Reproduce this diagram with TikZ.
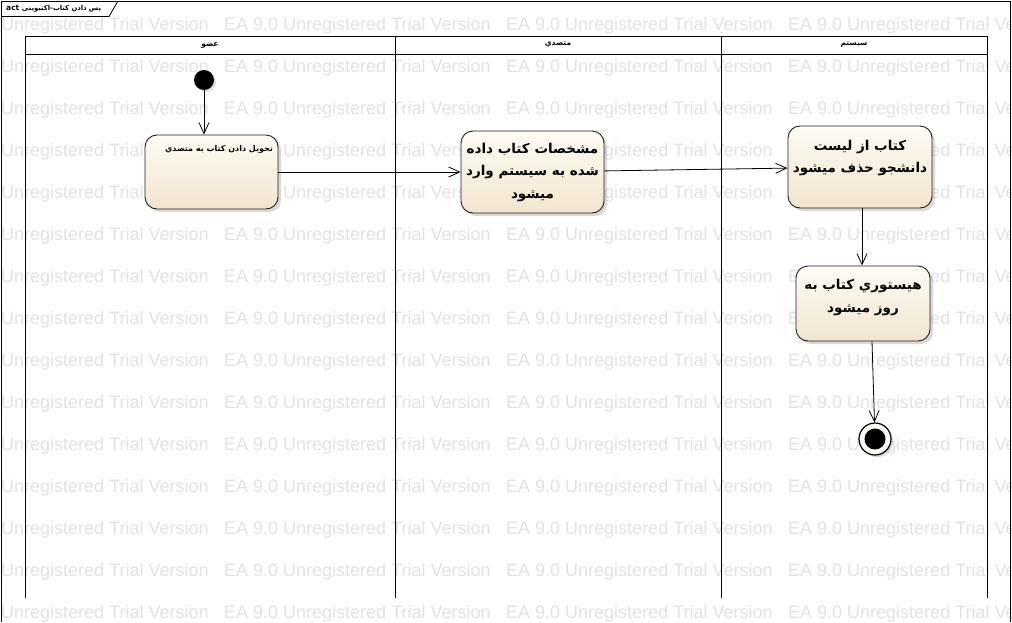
\documentclass[tikz,border=0pt]{standalone}
\usepackage{fontspec}
\setmainfont{DejaVu Sans}
\newfontfamily\arabicfont[Script=Arabic]{DejaVu Sans}
\newfontfamily\wmfont{Liberation Sans}
\usetikzlibrary{arrows.meta,shadows}
\TeXXeTstate=1
\definecolor{nodetop}{RGB}{254,251,244}
\definecolor{nodebot}{RGB}{241,229,206}
\definecolor{wmgray}{RGB}{226,226,226}
\definecolor{edge}{RGB}{30,30,30}
\tikzset{
  wm/.style={font=\wmfont\fontsize{18}{18}\selectfont, text=wmgray, inner sep=0pt, anchor=west},
  lane/.style={draw=black, line width=0.9pt},
  hdr/.style={font=\arabicfont\bfseries\fontsize{7.5}{8}\selectfont, inner sep=0pt},
  actbox/.style={draw=edge, line width=0.9pt, rounded corners=12pt,
    top color=nodetop, bottom color=nodebot,
    drop shadow={shadow xshift=3pt, shadow yshift=-3pt, opacity=0.3, fill=gray}},
  acttext/.style={font=\arabicfont\bfseries\fontsize{13.5}{22.5}\selectfont, align=center, inner sep=0pt},
  conn/.style={draw=black, line width=0.8pt, -{Straight Barb[length=11pt,width=10pt]}}
}
\begin{document}
\begin{tikzpicture}[x=1pt,y=-1pt]
\useasboundingbox (0,0) rectangle (1012,622);
\clip (0,0) rectangle (1012,622);
% watermark
\foreach \r in {0,...,14}{
  \foreach \c in {0,...,3}{
    \node[wm] (wm-\r-\c) at (-58+282*\c, 26+42*\r) {EA 9.0 Unregistered Trial Version};
  }
}
% outer frame
\draw[line width=0.9pt] (1,622) -- (1,1) -- (1010,1) -- (1010,622);
% title tab
\draw[line width=0.8pt] (1,16.5) -- (109,16.5) -- (118,1);
\node[anchor=west, inner sep=0pt] (title) at (6,9) {\bfseries\fontsize{7.5}{8}\selectfont act \arabicfont\bfseries\fontsize{6.8}{8}\selectfont\beginR پس دادن کتاب-اکتیویتی\endR};
% lanes
\draw[lane, fill=white] (25,36) rectangle (987,54);
\draw[lane] (25,36) -- (25,598);
\draw[lane] (395,36) -- (395,598);
\draw[lane] (721,36) -- (721,598);
\draw[lane] (987,36) -- (987,598);
\node[hdr] (h1) at (210,45) {\beginR عضو\endR};
\node[hdr] (h2) at (558,45) {\beginR متصدي\endR};
\node[hdr] (h3) at (854,45) {\beginR سیستم\endR};
% initial node
\node[circle, fill=black, minimum size=20pt, inner sep=0pt,
  drop shadow={shadow xshift=2pt, shadow yshift=-2pt, opacity=0.25, fill=gray}] (init) at (204,80) {};
% activities
\node[actbox, minimum width=133pt, minimum height=74pt] (n1) at (211.5,172) {};
\node[inner sep=0pt, font=\arabicfont\bfseries\fontsize{8}{9}\selectfont] (n1t) at (219,149) {\beginR تحویل دادن کتاب به متصدي\endR};
\node[actbox, minimum width=143pt, minimum height=82pt] (n2) at (532.5,172) {};
\node[acttext] (n2t) at (532.5,172.5) {\beginR مشخصات کتاب داده\endR\\\beginR شده به سیستم وارد\endR\\\beginR میشود\endR};
\node[actbox, minimum width=144pt, minimum height=82pt] (n3) at (860,167) {};
\node[acttext] (n3t) at (860,158) {\beginR کتاب از لیست\endR\\\beginR دانشجو حذف میشود\endR};
\node[actbox, minimum width=134pt, minimum height=75pt] (n4) at (863,303.5) {};
\node[acttext] (n4t) at (863,297.5) {\beginR هیستوري کتاب به\endR\\\beginR روز میشود\endR};
% final node
\node[circle, draw=black, line width=1.2pt, fill=nodetop, minimum size=32pt, inner sep=0pt,
  drop shadow={shadow xshift=2pt, shadow yshift=-2pt, opacity=0.3, fill=gray}] (fin) at (875,439) {};
\node[circle, fill=black, minimum size=21pt, inner sep=0pt] (finc) at (fin) {};
% connectors
\draw[conn] (init) -- (n1.north -| init);
\draw[conn] (n1) -- (n2);
\draw[conn] (n2) -- (n3);
\draw[conn] ([xshift=2pt]n3.south) -- ([xshift=-1pt]n4.north);
\draw[conn] ([xshift=9pt]n4.south) -- (fin);
\end{tikzpicture}
\end{document}
